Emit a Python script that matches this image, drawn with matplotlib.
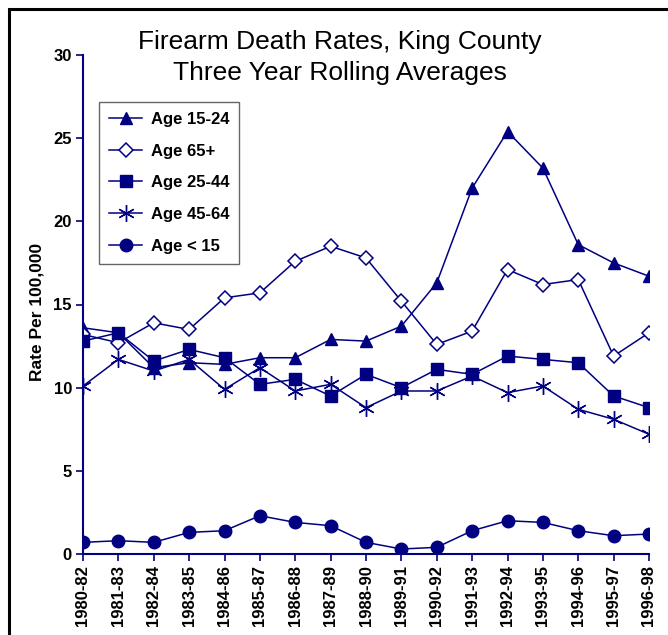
import matplotlib
matplotlib.use("Agg")
import matplotlib.pyplot as plt
from matplotlib.patches import Rectangle

periods = ["1980-82", "1981-83", "1982-84", "1983-85", "1984-86", "1985-87",
           "1986-88", "1987-89", "1988-90", "1989-91", "1990-92", "1991-93",
           "1992-94", "1993-95", "1994-96", "1995-97", "1996-98"]

age_15_24 = [13.6, 13.3, 11.2, 11.5, 11.4, 11.8, 11.8, 12.9, 12.8, 13.7, 16.3,
             22.0, 25.4, 23.2, 18.6, 17.5, 16.7]
age_65p = [13.2, 12.7, 13.9, 13.5, 15.4, 15.7, 17.6, 18.5, 17.8, 15.2, 12.6,
           13.4, 17.1, 16.2, 16.5, 11.9, 13.3]
age_25_44 = [12.8, 13.3, 11.6, 12.3, 11.8, 10.2, 10.5, 9.5, 10.8, 10.0, 11.1,
             10.8, 11.9, 11.7, 11.5, 9.5, 8.8]
age_45_64 = [10.1, 11.7, 11.0, 11.7, 9.9, 11.2, 9.8, 10.2, 8.8, 9.8, 9.8,
             10.7, 9.7, 10.1, 8.7, 8.1, 7.2]
age_lt15 = [0.7, 0.8, 0.7, 1.3, 1.4, 2.3, 1.9, 1.7, 0.7, 0.3, 0.4, 1.4, 2.0,
            1.9, 1.4, 1.1, 1.2]

y_ticks = [0, 5, 10, 15, 20, 25, 30]

NAVY = "#000080"
plt.rcParams["font.family"] = ["Liberation Sans", "DejaVu Sans"]

fig = plt.figure(figsize=(6.68, 6.35), dpi=100)
ax = fig.add_axes([83 / 668, 1 - 554 / 635, (649 - 83) / 668, (554 - 55) / 635])

x = list(range(len(periods)))
star = (6, 2, 0)
ax.plot(x, age_15_24, color=NAVY, lw=1.1, marker="^", ms=9, mfc=NAVY, mec=NAVY, label="Age 15-24")
ax.plot(x, age_65p, color=NAVY, lw=1.1, marker="D", ms=7, mfc="white", mec=NAVY, mew=1.1, label="Age 65+")
ax.plot(x, age_25_44, color=NAVY, lw=1.1, marker="s", ms=9, mfc=NAVY, mec=NAVY, label="Age 25-44")
ax.plot(x, age_45_64, color=NAVY, lw=1.1, marker=star, ms=12, mfc=NAVY, mec=NAVY, mew=1.0, label="Age 45-64")
ax.plot(x, age_lt15, color=NAVY, lw=1.1, marker="o", ms=9, mfc=NAVY, mec=NAVY, label="Age < 15")

ax.set_xlim(0, len(periods) - 1)
ax.set_ylim(0, 30)
ax.set_yticks(y_ticks)
ax.set_yticklabels([str(v) for v in y_ticks], fontsize=12, fontweight="bold")
ax.set_xticks(x)
ax.set_xticklabels(periods, rotation=90, fontsize=12, fontweight="bold")
ax.tick_params(axis="both", direction="out", length=5, color=NAVY, width=1.2, pad=3)

for s in ["top", "right"]:
    ax.spines[s].set_visible(False)
for s in ["left", "bottom"]:
    ax.spines[s].set_color(NAVY)
    ax.spines[s].set_linewidth(1.5)
ax.spines["bottom"].set_zorder(0)

ax.set_ylabel("Rate Per 100,000", fontsize=12.5, fontweight="bold")
ax.yaxis.set_label_coords((45 - 83) / 566, (554 - 312) / 499)

fig.text(340 / 668, 1 - 42 / 635, "Firearm Death Rates, King County",
         ha="center", va="center", fontsize=19)
fig.text(340 / 668, 1 - 73 / 635, "Three Year Rolling Averages",
         ha="center", va="center", fontsize=19)

leg = ax.legend(loc="upper left", bbox_to_anchor=((99 - 83) / 566, (554 - 102) / 499),
                borderaxespad=0, frameon=True, fancybox=False, shadow=False,
                prop={"weight": "bold", "size": 12}, handlelength=2.0,
                labelspacing=1.0, borderpad=0.6, handletextpad=0.5)
leg.get_frame().set_edgecolor("#404040")
leg.get_frame().set_linewidth(1.0)

fig.patches.append(Rectangle((9 / 668, -0.05), 1.1, 1 - 9 / 635 + 0.05,
                             transform=fig.transFigure, fill=False,
                             edgecolor="black", linewidth=2.2))

fig.savefig("out.png", dpi=100)
